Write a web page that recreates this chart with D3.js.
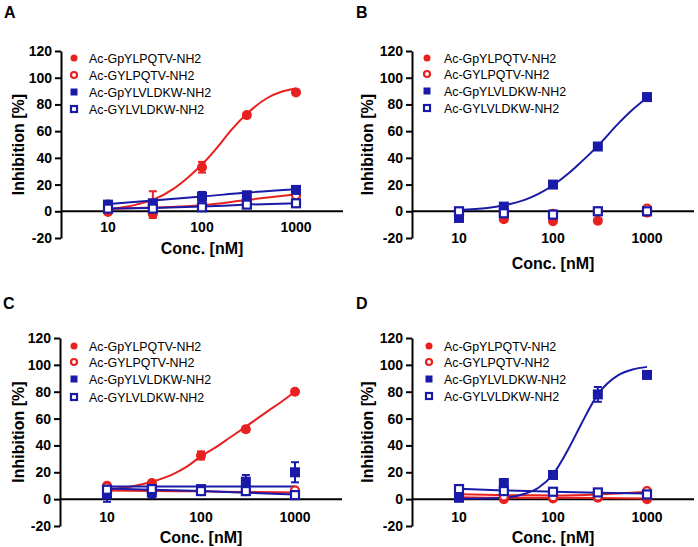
<!DOCTYPE html>
<html>
<head>
<meta charset="utf-8">
<script src="https://cdn.jsdelivr.net/npm/d3@7"></script>
<style>
  html, body { margin: 0; padding: 0; background: #fff; }
  svg { display: block; font-family: "Liberation Sans", Arial, sans-serif; }
</style>
</head>
<body>
<svg id="chart" width="698" height="547"></svg>
<script>
// ---------------- DATA ----------------
const concs = [10, 30, 100, 300, 1000];
const seriesNames = ["Ac-GpYLPQTV-NH2", "Ac-GYLPQTV-NH2", "Ac-GpYLVLDKW-NH2", "Ac-GYLVLDKW-NH2"];
const xTicks = [10, 100, 1000];
const yTicks = [-20, 0, 20, 40, 60, 80, 100, 120];
const panelLabels = ["A", "B", "C", "D"];
const fitX = [10, 20, 30, 50, 70, 100, 150, 200, 300, 500, 700, 1000];

// Panel A
const A_pYLPQTV = [-0.5, -2, 33, 72, 89];
const A_pYLPQTV_errUp = [0, 17, 4, 1, 0];
const A_pYLPQTV_errDown = [0, 3, 4, 1, 0];
const A_GYLPQTV = [5, 2, 5, 8, 12];
const A_pYLVLDKW = [5, 6, 11, 12, 16];
const A_pYLVLDKW_err = [1, 2, 3.5, 1, 1];
const A_GYLVLDKW = [2, 2, 3, 5, 6];
const A_fit_pYLPQTV = [1.5, 5, 8.5, 17, 25, 35, 49, 60, 73, 85, 89.5, 92];
const A_fit_GYLPQTV = [1.8, 2.8, 4.5, 8.5, 12.7];
const A_fit_pYLVLDKW = [5.5, 8, 11, 14, 16.5];
const A_fit_GYLVLDKW = [2, 2.5, 3.5, 5, 6];

// Panel B
const B_pYLPQTV = [-4, -6, -7.5, -7, -1];
const B_GYLPQTV = [-3, -1, -2, 0, 2];
const B_pYLVLDKW = [-5, 3.5, 20, 48.5, 85.5];
const B_pYLVLDKW_err = [2, 1, 1, 1, 1];
const B_GYLVLDKW = [0, -1.5, -2.5, 0, 0];
const B_fit_pYLVLDKW = [1, 2.5, 4.5, 8.5, 13, 19.5, 29, 37, 49, 66, 76, 85];

// Panel C
const C_pYLPQTV = [10, 12, 32.5, 52, 80];
const C_pYLPQTV_err = [1, 1, 3, 2, 0.5];
const C_GYLPQTV = [9, 8, 6, 6, 6.5];
const C_pYLVLDKW = [3.5, 5, 7.5, 13, 20];
const C_pYLVLDKW_err = [5.5, 4, 2, 5, 7.5];
const C_GYLVLDKW = [7, 7.5, 6, 6, 3];
const C_fit_pYLPQTV = [7, 10, 13, 18.5, 24, 32, 39.5, 45.5, 54, 65, 72, 80];
const C_fit_GYLPQTV = [6.5, 6, 5.8, 5.3, 5];
const C_fit_pYLVLDKW = [9.5, 9.5, 9.5, 9.5, 9.5];
const C_fit_GYLVLDKW = [8, 7, 6, 4.8, 3.5];

// Panel D
const D_pYLPQTV = [2, 0, 0.5, 1, 0];
const D_GYLPQTV = [3, 2, 1.5, 2, 6];
const D_pYLVLDKW = [1, 12, 18, 78, 92.5];
const D_pYLVLDKW_err = [1, 3, 1, 5.5, 1];
const D_GYLVLDKW = [7.5, 6, 5.5, 5, 3.5];
const D_fit_pYLVLDKW = [0.3, 0.5, 1, 4, 8.5, 18.5, 39, 56, 78, 92.5, 96.5, 98.5];
const D_fit_pYLPQTV = [1.5, 1, 1, 0.8, 0.5];
const D_fit_GYLPQTV = [3.7, 3, 2.8, 3.5, 5.5];
const D_fit_GYLVLDKW = [7.8, 6.5, 5.5, 4.8, 4.2];

// ---------------- STYLE / LAYOUT ----------------
const RED = "#e8201f";
const BLUE = "#1a1aa8";
const styles = [
  { color: RED, shape: "circle", filled: true },
  { color: RED, shape: "circle", filled: false },
  { color: BLUE, shape: "square", filled: true },
  { color: BLUE, shape: "square", filled: false }
];

const panels = [
  { left: 61, top: 51, bottom: 238, xTickBase: 232, xTitleBase: 254, yTitleX: 18, labelX: 4, labelY: 18,
    legMarkX: 74, legTextX: 89, legY: [58, 75, 92, 109],
    points: [A_pYLPQTV, A_GYLPQTV, A_pYLVLDKW, A_GYLVLDKW],
    errUp: [A_pYLPQTV_errUp, null, A_pYLVLDKW_err, null],
    errDown: [A_pYLPQTV_errDown, null, A_pYLVLDKW_err, null],
    fits: [{ x: fitX, y: A_fit_pYLPQTV, s: 0 }, { x: concs, y: A_fit_GYLPQTV, s: 1 },
           { x: concs, y: A_fit_pYLVLDKW, s: 2 }, { x: concs, y: A_fit_GYLVLDKW, s: 3 }] },
  { left: 412, top: 51, bottom: 238, xTickBase: 243, xTitleBase: 269, yTitleX: 367, labelX: 356, labelY: 18,
    legMarkX: 427, legTextX: 444, legY: [58, 74, 91, 108],
    points: [B_pYLPQTV, B_GYLPQTV, B_pYLVLDKW, B_GYLVLDKW],
    errUp: [null, null, B_pYLVLDKW_err, null],
    errDown: [null, null, B_pYLVLDKW_err, null],
    fits: [{ x: fitX, y: B_fit_pYLVLDKW, s: 2 }] },
  { left: 60, top: 338, bottom: 526, xTickBase: 522, xTitleBase: 543, yTitleX: 18, labelX: 3, labelY: 309,
    legMarkX: 74, legTextX: 89, legY: [346, 362, 379, 397],
    points: [C_pYLPQTV, C_GYLPQTV, C_pYLVLDKW, C_GYLVLDKW],
    errUp: [C_pYLPQTV_err, null, C_pYLVLDKW_err, null],
    errDown: [C_pYLPQTV_err, null, C_pYLVLDKW_err, null],
    fits: [{ x: fitX, y: C_fit_pYLPQTV, s: 0 }, { x: concs, y: C_fit_GYLPQTV, s: 1 },
           { x: concs, y: C_fit_pYLVLDKW, s: 2 }, { x: concs, y: C_fit_GYLVLDKW, s: 3 }] },
  { left: 412, top: 338, bottom: 526, xTickBase: 522, xTitleBase: 543, yTitleX: 367, labelX: 356, labelY: 309,
    legMarkX: 429, legTextX: 444, legY: [346, 362, 379, 396],
    points: [D_pYLPQTV, D_GYLPQTV, D_pYLVLDKW, D_GYLVLDKW],
    errUp: [null, null, D_pYLVLDKW_err, null],
    errDown: [null, null, D_pYLVLDKW_err, null],
    fits: [{ x: concs, y: D_fit_pYLPQTV, s: 0 }, { x: concs, y: D_fit_GYLPQTV, s: 1 },
           { x: fitX, y: D_fit_pYLVLDKW, s: 2 }, { x: concs, y: D_fit_GYLVLDKW, s: 3 }] }
];

const svg = d3.select("#chart");
const PW = 282;

function drawMarker(g, shape, filled, color, cx, cy, size) {
  if (shape === "circle") {
    const r = filled ? size / 2 : size / 2 - 1;
    g.append("circle").attr("cx", cx).attr("cy", cy).attr("r", r)
      .attr("fill", filled ? color : "#fff")
      .attr("stroke", color).attr("stroke-width", filled ? 0 : 2.2);
  } else {
    const s = filled ? size : size - 2;
    g.append("rect").attr("x", cx - s / 2).attr("y", cy - s / 2).attr("width", s).attr("height", s)
      .attr("fill", filled ? color : "#fff")
      .attr("stroke", color).attr("stroke-width", filled ? 0 : 2.2);
  }
}

panels.forEach((p, pi) => {
  const g = svg.append("g");
  const x = d3.scaleLog().domain([Math.pow(10, 0.5), Math.pow(10, 3.5)]).range([p.left, p.left + PW]);
  const y = d3.scaleLinear().domain([-20, 120]).range([p.bottom, p.top]);

  // Y axis
  const yAxis = d3.axisLeft(y).tickValues(yTicks).tickFormat(d => String(d))
    .tickSize(6).tickPadding(3).tickSizeOuter(0);
  const ya = g.append("g").attr("transform", `translate(${p.left},0)`).call(yAxis);
  ya.select(".domain").attr("stroke", "#000").attr("stroke-width", 2);
  ya.selectAll(".tick line").attr("stroke", "#000").attr("stroke-width", 2);
  ya.selectAll(".tick text").attr("font-size", 14).attr("font-weight", "bold").attr("fill", "#000")
    .attr("font-family", "'Liberation Sans', Arial, sans-serif");

  // Zero line (x axis, no ticks)
  g.append("line").attr("x1", p.left).attr("x2", p.left + PW).attr("y1", y(0)).attr("y2", y(0))
    .attr("stroke", "#000").attr("stroke-width", 2);

  // X tick labels
  g.selectAll(".xt").data(xTicks).enter().append("text")
    .attr("x", d => x(d)).attr("y", p.xTickBase)
    .attr("text-anchor", "middle").attr("font-size", 14).attr("font-weight", "bold")
    .text(d => String(d));

  // Axis titles
  g.append("text").attr("x", x(100)).attr("y", p.xTitleBase)
    .attr("text-anchor", "middle").attr("font-size", 16).attr("font-weight", "bold")
    .text("Conc. [nM]");
  g.append("text")
    .attr("transform", `translate(${p.yTitleX},${(p.top + p.bottom) / 2}) rotate(-90)`)
    .attr("text-anchor", "middle").attr("dominant-baseline", "central")
    .attr("font-size", 16).attr("font-weight", "bold")
    .text("Inhibition [%]");

  // Panel label
  g.append("text").attr("x", p.labelX).attr("y", p.labelY)
    .attr("font-size", 16).attr("font-weight", "bold").text(panelLabels[pi]);

  // Fit curves
  const line = d3.line().x(d => x(d[0])).y(d => y(d[1])).curve(d3.curveMonotoneX);
  p.fits.forEach(f => {
    g.append("path").datum(f.x.map((xv, i) => [xv, f.y[i]]))
      .attr("d", line).attr("fill", "none")
      .attr("stroke", styles[f.s].color).attr("stroke-width", 2);
  });

  // Error bars + points
  p.points.forEach((vals, si) => {
    const st = styles[si];
    const up = p.errUp[si], dn = p.errDown[si];
    if (up) {
      vals.forEach((v, i) => {
        if (up[i] <= 0 && dn[i] <= 0) return;
        const cx = x(concs[i]);
        const y1 = y(v + up[i]), y2 = y(v - dn[i]);
        g.append("line").attr("x1", cx).attr("x2", cx).attr("y1", y1).attr("y2", y2)
          .attr("stroke", st.color).attr("stroke-width", 2);
        [y1, y2].forEach(yy => g.append("line").attr("x1", cx - 4).attr("x2", cx + 4)
          .attr("y1", yy).attr("y2", yy).attr("stroke", st.color).attr("stroke-width", 2));
      });
    }
    vals.forEach((v, i) => drawMarker(g, st.shape, st.filled, st.color, x(concs[i]), y(v), 10));
  });

  // Legend
  seriesNames.forEach((name, si) => {
    const st = styles[si];
    drawMarker(g, st.shape, st.filled, st.color, p.legMarkX, p.legY[si], st.filled ? 7 : 8);
    g.append("text").attr("x", p.legTextX).attr("y", p.legY[si] + 4.5)
      .attr("font-size", 12.4).attr("fill", "#000").text(name);
  });
});
</script>
</body>
</html>
